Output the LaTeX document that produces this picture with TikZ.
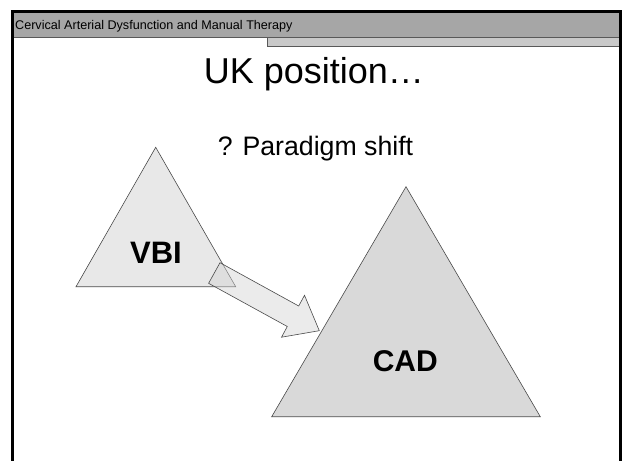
\documentclass[tikz,border=0pt]{standalone}
\usepackage{fontspec}
\setmainfont{Liberation Sans}
\definecolor{hdr}{HTML}{A6A6A6}
\definecolor{tabc}{HTML}{C9C9C9}
\definecolor{vbifill}{HTML}{E8E8E8}
\definecolor{cadfill}{HTML}{D9D9D9}
\definecolor{edgec}{HTML}{4A4A4A}
\definecolor{arrowfill}{HTML}{D4D4D4}
\tikzset{
  tri/.style={draw=edgec, line width=0.6pt, line join=miter},
  label/.style={inner sep=0pt, anchor=base, text=black},
  blockarrow/.style={draw=edgec, line width=0.6pt, fill=arrowfill, fill opacity=0.45}
}
\begin{document}
\begin{tikzpicture}[x=1pt,y=-1pt]
\useasboundingbox (0,0) rectangle (622,461);
\fill[white] (0,0) rectangle (622,461);
% header
\fill[hdr] (12.5,11.3) rectangle (620.7,37);
\fill[tabc] (267,37) rectangle (620.7,46);
\draw[black!65, line width=0.7pt] (12.5,37) -- (620.7,37);
\draw[black!65, line width=0.7pt] (267,37) -- (267,46) -- (620.7,46);
\draw[black, line width=2.7pt] (12.5,461) -- (12.5,11.3) -- (620.7,11.3) -- (620.7,461);
\node[label, anchor=base west, font=\fontsize{12.6}{14}\selectfont] (hdrtext) at (15,29.3) {Cervical Arterial Dysfunction and Manual Therapy};
% titles
\node[label, font=\fontsize{36}{40}\selectfont] (title) at (314,83) {UK position…};
\node[label, font=\fontsize{26.7}{30}\selectfont] (sub) at (315.5,155.5) {? Paradigm shift};
% triangles
\draw[tri, fill=vbifill] (155.7,147.3) -- (235.7,286.7) -- (76,286.7) -- cycle;
\draw[tri, fill=cadfill] (406,186.7) -- (540.3,416.7) -- (271.7,416.7) -- cycle;
% arrow
\draw[blockarrow] (220,262.7) -- (298.7,306) -- (304.5,295.3) -- (319.3,330.7) -- (281.5,337.2) -- (287.3,326.5) -- (208.6,283.3) -- cycle;
% labels
\node[label, font=\fontsize{31}{34}\selectfont\bfseries] (vbi) at (156,263.3) {VBI};
\node[label, font=\fontsize{30}{34}\selectfont\bfseries] (cad) at (405.3,371.7) {CAD};
\end{tikzpicture}
\end{document}
